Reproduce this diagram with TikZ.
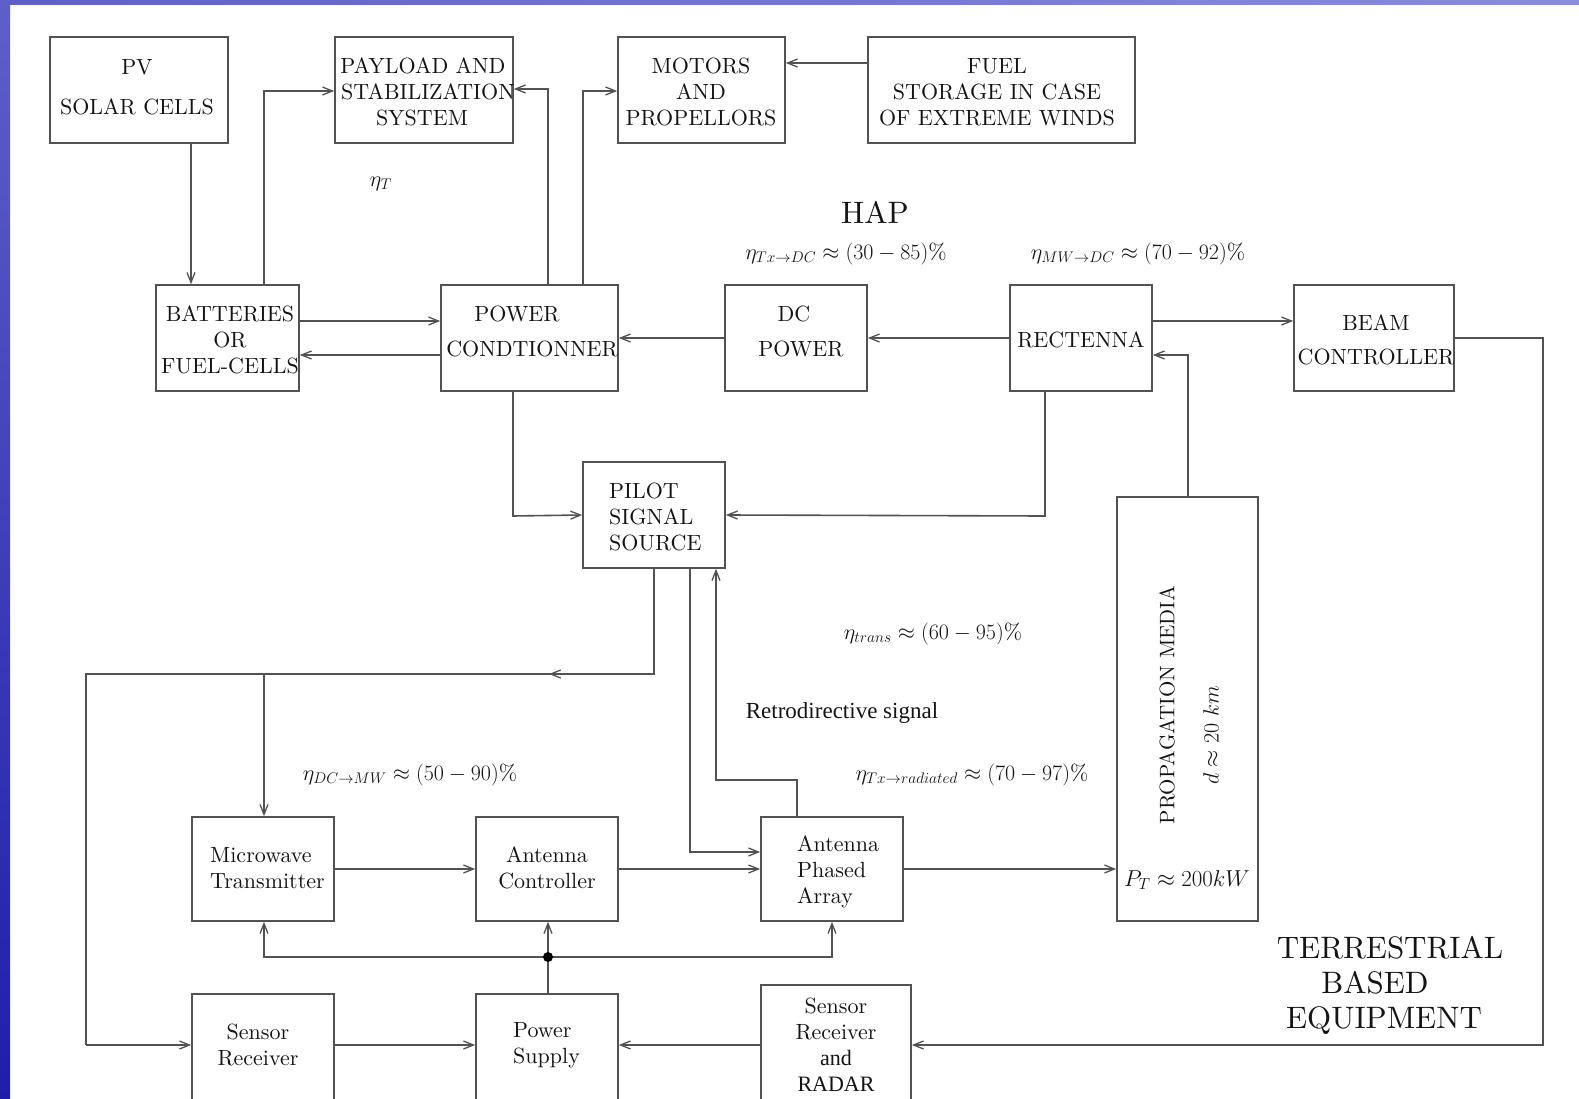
\RequirePackage{fix-cm}
\documentclass[tikz,border=0pt]{standalone}
\usepackage{fontspec}
\setmainfont{lmroman10-regular}[Extension=.otf, BoldFont=lmroman10-bold, ItalicFont=lmroman10-italic, BoldItalicFont=lmroman10-bolditalic]
\newfontfamily\libserif{Liberation Serif}
\usetikzlibrary{arrows.meta}
\definecolor{lc}{RGB}{82,82,82}
\definecolor{tc}{RGB}{20,20,20}
\definecolor{bandA}{RGB}{95,95,200}
\definecolor{bandB}{RGB}{140,140,220}
\definecolor{bandC}{RGB}{30,30,170}
\tikzset{
  box/.style={draw=lc, line width=1.6pt, inner sep=0pt},
  ln/.style={draw=lc, line width=1.6pt},
  arr/.style={ln, -{Straight Barb[length=10pt,width=8pt,line width=1.3pt]}},
  txt/.style={text=tc, font=\fontsize{22}{26}\selectfont, align=center, inner sep=0pt},
  txtl/.style={txt, align=left, anchor=west},
  lbl/.style={text=tc, font=\fontsize{22}{26}\selectfont, inner sep=0pt},
}
\begin{document}
\begin{tikzpicture}[x=1pt,y=-1pt]
\useasboundingbox (0,0) rectangle (1579,1099);
\fill[white] (0,0) rectangle (1579,1099);
\shade[left color=bandA, right color=bandB] (0,0) rectangle (1579,5);
\shade[top color=bandA, middle color=bandB, bottom color=bandC] (0,0) rectangle (10,1099);
\clip (0,0) rectangle (1579,1099);

% ---------- boxes ----------
\node[box, minimum width=178pt, minimum height=106pt] (pv)    at (139,90) {};
\node[box, minimum width=178pt, minimum height=106pt] (pay)   at (424,90) {};
\node[box, minimum width=167pt, minimum height=106pt] (mot)   at (701.5,90) {};
\node[box, minimum width=267pt, minimum height=106pt] (fuel)  at (1001.5,90) {};
\node[box, minimum width=143pt, minimum height=106pt] (batt)  at (227.5,338) {};
\node[box, minimum width=177pt, minimum height=106pt] (pc)    at (529.5,338) {};
\node[box, minimum width=142pt, minimum height=106pt] (dc)    at (796,338) {};
\node[box, minimum width=142pt, minimum height=106pt] (rect)  at (1081,338) {};
\node[box, minimum width=160pt, minimum height=106pt] (beam)  at (1374,338) {};
\node[box, minimum width=142pt, minimum height=106pt] (pilot) at (654,515) {};
\node[box, minimum width=141pt, minimum height=424pt] (prop)  at (1187.5,709) {};
\node[box, minimum width=142pt, minimum height=104pt] (mw)    at (263,869) {};
\node[box, minimum width=142pt, minimum height=104pt] (ac)    at (547,869) {};
\node[box, minimum width=142pt, minimum height=104pt] (apa)   at (832,869) {};
\node[box, minimum width=142pt, minimum height=106pt] (sr)    at (263,1047) {};
\node[box, minimum width=142pt, minimum height=106pt] (ps)    at (547,1047) {};
\node[box, minimum width=150pt, minimum height=126pt] (srr)   at (836,1048) {};

% ---------- box texts ----------
\node[txt] (pvT)    at (137,87)  {PV\\[14pt]SOLAR CELLS};
\node[txt] (payT)   at (428,92)  {PAYLOAD AND\kern10pt\\STABILIZATION\\SYSTEM\kern12pt};
\node[txt] (motT)   at (701,92)  {MOTORS\\AND\\PROPELLORS};
\node[txt] (fuelT)  at (997,92)  {FUEL\\STORAGE IN CASE\\OF EXTREME WINDS};
\node[txt] (battT)  at (230,340) {BATTERIES\\OR\\FUEL-CELLS};
\node[txt] (pcT)    at (532,331) {POWER\kern30pt\\[9pt]CONDTIONNER};
\node[txt] (dcT)    at (801,331) {DC\kern14pt\\[9pt]POWER};
\node[txt] (rectT)  at (1081,340) {RECTENNA};
\node[txt] (beamT)  at (1376,340) {BEAM\\[8pt]CONTROLLER};
\node[txtl] (pilotT) at (609,517) {PILOT\\SIGNAL\\SOURCE};
\node[txtl] (mwT)   at (210,868) {Microwave\\Transmitter};
\node[txt] (acT)    at (547,868) {Antenna\\Controller};
\node[txtl] (apaT)  at (797,872) {Antenna\\Phased\\Array};
\node[txt] (srT)    at (258,1045) {Sensor\\Receiver};
\node[txtl] (psT)   at (513,1045) {Power\\Supply};
\node[txt] (srrT)   at (836,1045) {Sensor\\Receiver\\{\libserif and}\\{\libserif RADAR}};
\node[lbl, rotate=90, font=\fontsize{21}{24}\selectfont] (propT) at (1167,705) {PROPAGATION MEDIA};
\node[lbl, rotate=90] (dT) at (1211,735) {$d\approx 20\ km$};
\node[lbl, font=\fontsize{23}{26}\selectfont] (ptT) at (1187,880) {$P_T\approx 200kW$};

% ---------- free labels ----------
\node[lbl] (etaT) at (381,184) {$\eta_T$};
\node[lbl, font=\fontsize{31}{35}\selectfont] (hap) at (875,212) {HAP};
\node[lbl] (e1) at (846,254) {$\eta_{Tx\rightarrow DC}\approx(30-85)\%$};
\node[lbl] (e2) at (1138,254) {$\eta_{MW\rightarrow DC}\approx(70-92)\%$};
\node[lbl] (e3) at (933,634) {$\eta_{trans}\approx(60-95)\%$};
\node[lbl, font=\libserif\fontsize{23}{26}\selectfont] (retro) at (842,713) {Retrodirective signal};
\node[lbl] (e4) at (410,775) {$\eta_{DC\rightarrow MW}\approx(50-90)\%$};
\node[lbl] (e5) at (972,775) {$\eta_{Tx\rightarrow radiated}\approx(70-97)\%$};
\node[txt, font=\fontsize{31}{35}\selectfont] (terr) at (1390,985) {TERRESTRIAL\\BASED\kern30pt\\EQUIPMENT\kern12pt};

% ---------- helper coordinates ----------
\coordinate (k0) at (191,0);
\coordinate (k1) at (264,91);
\coordinate (k2) at (548,89);
\coordinate (k3) at (583,91);
\coordinate (y63) at (0,63);
\coordinate (y321) at (0,321);
\coordinate (y355) at (0,355);
\coordinate (b1) at (1543,338);
\coordinate (b2) at (1543,1045);
\coordinate (p1) at (513,516);
\coordinate (r1) at (1045,516);
\coordinate (q1) at (1188,355);
\coordinate (s1) at (654,674);
\coordinate (s2) at (86,674);
\coordinate (s3) at (86,1045);
\coordinate (s4) at (264,674);
\coordinate (smid) at (549,674);
\coordinate (t1) at (690,852);
\coordinate (u1) at (797,780);
\coordinate (u2) at (716,780);
\coordinate (dot) at (548,957);
\coordinate (w1) at (264,957);
\coordinate (w2) at (832,957);
\coordinate (y1045) at (0,1045);

% ---------- connectors ----------
\draw[arr] (pv.south -| k0) -- (batt.north -| k0);
\draw[arr] (batt.north -| k1) -- (k1) -- (k1 -| pay.west);
\draw[arr] (pc.north -| k2) -- (k2) -- (k2 -| pay.east);
\draw[arr] (pc.north -| k3) -- (k3) -- (k3 -| mot.west);
\draw[arr] (fuel.west |- y63) -- (mot.east |- y63);
\draw[arr] (batt.east |- y321) -- (pc.west |- y321);
\draw[arr] (pc.west |- y355) -- (batt.east |- y355);
\draw[arr] (dc.west) -- (pc.east);
\draw[arr] (rect.west) -- (dc.east);
\draw[arr] (rect.east |- y321) -- (beam.west |- y321);
\draw[arr] (beam.east) -- (b1) -- (b2) -- (srr.east |- b2);
\draw[arr] (pc.south -| p1) -- (p1) -- (pilot.west);
\draw[arr] (rect.south -| r1) -- (r1) -- (pilot.east);
\draw[arr] (prop.north -| q1) -- (q1) -- (rect.east |- q1);
\draw[ln] (pilot.south -| s1) -- (s1) -- (s2) -- (s3);
\draw[arr] (s1) -- (smid);
\draw[arr] (s3) -- (sr.west |- s3);
\draw[arr] (s4) -- (mw.north -| s4);
\draw[arr] (pilot.south -| t1) -- (t1) -- (apa.west |- t1);
\draw[arr] (apa.north -| u1) -- (u1) -- (u2) -- (pilot.south -| u2);
\draw[arr] (mw.east) -- (ac.west);
\draw[arr] (ac.east) -- (apa.west);
\draw[arr] (apa.east) -- (prop.west |- apa.east);
\draw[ln] (ps.north -| dot) -- (dot);
\draw[arr] (dot) -- (ac.south -| dot);
\draw[arr] (dot) -- (w1) -- (mw.south -| w1);
\draw[arr] (dot) -- (w2) -- (apa.south -| w2);
\fill[black] (dot) circle (5pt);
\draw[arr] (sr.east |- y1045) -- (ps.west |- y1045);
\draw[arr] (srr.west |- y1045) -- (ps.east |- y1045);
\end{tikzpicture}
\end{document}
